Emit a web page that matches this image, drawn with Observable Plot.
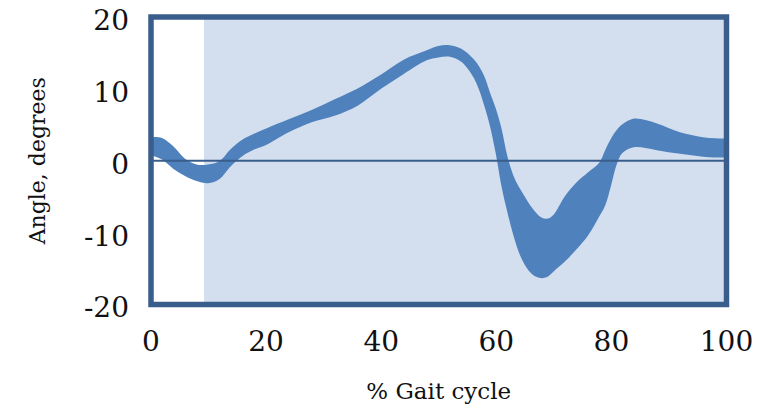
<!DOCTYPE html>
<html>
<head>
<meta charset="utf-8">
<script src="https://cdn.jsdelivr.net/npm/d3@7"></script>
<script src="https://cdn.jsdelivr.net/npm/@observablehq/plot@0.6"></script>
<style>
  html, body { margin: 0; padding: 0; background: #ffffff; }
  #chart svg { display: block; }
</style>
</head>
<body>
<div id="chart"></div>
<script>
// % gait cycle
const gait = [0,2,4,6,8,10,12,14,16,18,20,24,28,32,36,40,44,48,50,52,54,56,57,58,59,60,61,62,63,64,65,66,67,68,69,70,72,74,76,78,79,80,81,82,84,86,88,90,92,94,96,98,100];
// upper bound of the band (degrees)
const upper = [3.2,3.1,1.9,0.2,-0.6,-0.6,-0.1,1.6,2.9,3.7,4.4,5.7,7.0,8.5,10.0,11.9,14.0,15.3,15.9,16.0,15.5,14.2,13.2,11.7,9.4,7.2,4.4,0.6,-2.0,-3.7,-5.0,-6.3,-7.3,-8.0,-8.1,-7.6,-5.0,-3.1,-1.7,-0.3,1.4,3.0,4.2,5.0,5.8,5.6,5.1,4.5,3.9,3.5,3.2,3.05,3.0];
// lower bound of the band (degrees)
const lower = [0.7,0.1,-1.2,-2.2,-2.9,-3.2,-2.6,-0.8,0.6,1.5,2.1,3.9,5.3,6.2,7.6,9.9,12.0,13.9,14.3,14.4,13.7,11.7,10.0,7.6,4.7,0.9,-3.7,-7.2,-10.3,-12.8,-14.5,-15.6,-16.2,-16.4,-16.2,-15.5,-14.1,-12.4,-10.5,-7.8,-6.3,-3.6,-0.6,1.0,1.8,1.7,1.4,1.1,0.9,0.7,0.5,0.4,0.4];
// shaded phase of the cycle
const phaseStart = [9.3];
const phaseEnd = [100];
const xTicks = [0,20,40,60,80,100];
const yTicks = [-20,-10,0,10,20];
const xTitle = "% Gait cycle";
const yTitle = "Angle, degrees";

const band = gait.map((g, i) => ({gait: g, upper: upper[i], lower: lower[i]}));
const phase = phaseStart.map((s, i) => ({start: s, end: phaseEnd[i]}));

const font = "'DejaVu Serif', 'Liberation Serif', serif";
const dark = "#3a5e8c";

const chart = Plot.plot({
  width: 771,
  height: 414,
  marginLeft: 150.5,
  marginRight: 45,
  marginTop: 16.5,
  marginBottom: 110,
  style: {fontFamily: font, background: "#ffffff", color: "#111"},
  x: {domain: [0, 100]},
  y: {domain: [-20, 20]},
  marks: [
    Plot.rect(phase, {x1: "start", x2: "end", y1: -20, y2: 20, fill: "#d3dfef"}),
    Plot.areaY(band, {x: "gait", y1: "lower", y2: "upper", fill: "#4f81bd", curve: "catmull-rom"}),
    Plot.ruleY([0], {stroke: dark, strokeWidth: 2}),
    Plot.frame({stroke: dark, strokeWidth: 5.5}),
    Plot.axisX({ticks: xTicks, tickSize: 0, tickPadding: 27, fontSize: 28, label: null, tickFormat: d => String(d)}),
    Plot.axisY({ticks: yTicks, tickSize: 0, tickPadding: 22, fontSize: 28, label: null, dy: 4, tickFormat: d => String(d)}),
    Plot.text([xTitle], {frameAnchor: "bottom", dy: 94, fontSize: 23, fill: "#111", textAnchor: "middle"}),
    Plot.text([yTitle], {frameAnchor: "left", dx: -113, rotate: -90, fontSize: 22, fill: "#111", textAnchor: "middle"})
  ]
});
document.getElementById("chart").appendChild(chart);
</script>
</body>
</html>
